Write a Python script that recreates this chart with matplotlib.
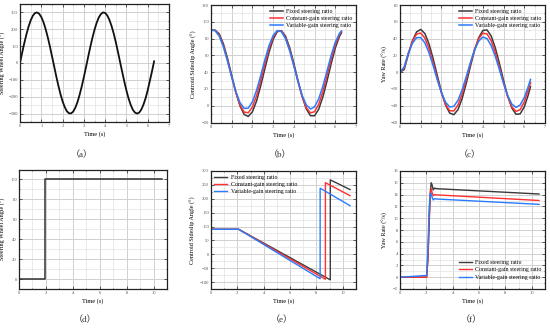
import matplotlib
matplotlib.use("Agg")
import matplotlib.pyplot as plt
from matplotlib.ticker import MultipleLocator

# ---------------- data ----------------
series_names = ["Fixed steering ratio", "Constant-gain steering ratio", "Variable-gain steering ratio"]
captions = ["（a）", "（b）", "（c）", "（d）", "（e）", "（f）"]
ylabels = ["Steering Wheel Angle (°)", "Centroid Sideslip Angle (°)", "Yaw Rate (°/s)",
           "Steering Wheel Angle (°)", "Centroid Sideslip Angle (°)", "Yaw Rate (°/s)"]

# (a) sine steering input
t_a = [i / 10 for i in range(64)]
swa_a = [0, 60, 117, 169, 215, 252, 280, 296, 300, 292, 273, 243, 203, 155, 101, 42,
         -17, -77, -133, -184, -227, -261, -286, -298, -299, -288, -265, -232, -189, -139,
         -84, -25, 35, 94, 148, 197, 238, 270, 290, 300, 297, 282, 256, 220, 176, 124, 67,
         7, -52, -110, -163, -210, -248, -277, -294, -300, -294, -276, -247, -209, -161,
         -106, -50, 10]

# time base for (b) and (c)
t_bc = [0, 0.2, 0.4, 0.6, 0.8, 1.0, 1.2, 1.4, 1.6, 1.8, 2.0, 2.2, 2.4, 2.6, 2.8, 3.0,
        3.2, 3.4, 3.6, 3.8, 4.0, 4.2, 4.4, 4.6, 4.8, 5.0, 5.2, 5.4, 5.6, 5.8, 6.0, 6.2, 6.3]

# (b) centroid sideslip angle
beta_fixed = [90, 90, 85.5, 73.6, 56.2, 36.0, 16.1, -0.2, -10.4, -12.8, -7.2, 5.6, 23.7,
              44.0, 63.5, 79.1, 88.2, 89.5, 82.7, 69.0, 50.4, 30.0, 11.0, -3.8, -11.9,
              -12.0, -4.1, 10.4, 29.5, 49.9, 68.7, 82.5, 87.0]
beta_const = [90, 89.8, 84.0, 71.3, 53.7, 34.1, 15.5, 0.9, -7.6, -8.4, -1.5, 12.0, 30.1,
              49.8, 67.9, 81.8, 89.2, 88.9, 80.8, 66.5, 48.1, 28.4, 10.7, -2.3, -8.6,
              -7.1, 1.8, 16.9, 35.8, 55.4, 72.6, 84.7, 88.3]
beta_var = [90, 89.4, 82.8, 70.0, 52.8, 34.2, 16.9, 3.7, -3.2, -2.9, 4.7, 18.4, 35.9,
            54.6, 71.4, 83.7, 89.6, 88.2, 79.7, 65.3, 47.4, 28.8, 12.4, 1.0, -3.9,
            -1.4, 8.2, 23.1, 41.4, 59.8, 75.6, 86.2, 89.0]

# (c) yaw rate
yaw_fixed = [0, 3, 20.8, 37.3, 47.9, 50.9, 46.0, 33.7, 16.1, -4.0, -23.5, -39.3, -48.8,
             -50.7, -44.6, -31.4, -13.3, 7.0, 26.1, 41.1, 49.6, 50.3, 43.1, 29.0, 10.4,
             -9.9, -28.6, -42.8, -50.2, -49.7, -41.4, -26.5, -17.3]
yaw_const = [0, 5, 22.5, 36.8, 45.3, 46.6, 40.6, 28.1, 11.2, -7.4, -24.9, -38.4, -46.0,
             -46.2, -39.1, -25.9, -8.6, 10.1, 27.2, 40.0, 46.4, 45.6, 37.5, 23.5, 6.0,
             -12.8, -29.4, -41.3, -46.8, -44.7, -35.5, -20.7, -12.4]
yaw_var = [0, 6, 22.3, 34.4, 41.1, 41.2, 34.9, 23.1, 7.6, -9.1, -24.4, -35.8, -41.5,
           -40.7, -33.5, -21.0, -5.2, 11.5, 26.3, 37.0, 41.8, 40.0, 31.7, 18.8, 2.9,
           -13.7, -28.1, -38.1, -42.0, -39.2, -30.2, -16.5, -8.6]

# (d) step steering input
t_d = [0, 1.95, 1.95, 10.6]
swa_d = [0, 0, 100, 100]

# (e) centroid sideslip angle, step input
t_e_fixed = [0, 2.1, 9.05, 9.05, 10.55]
beta_e_fixed = [90, 90, -92, 268, 233]
t_e_const = [0, 2.1, 8.68, 8.68, 10.55]
beta_e_const = [90, 90, -90, 258, 211]
t_e_var = [0, 2.1, 8.28, 8.28, 10.55]
beta_e_var = [90, 90, -88, 238, 175]

# (f) yaw rate, step input
t_f = [0, 2.02, 2.12, 2.22, 2.3, 2.37, 2.44, 2.52, 2.62, 2.8, 10.55]
yaw_f_fixed = [0, 0, 3.0, 9.5, 14.5, 16.0, 15.6, 14.8, 15.1, 15.0, 14.1]
yaw_f_const = [0, 0, 3.5, 10.5, 14.2, 15.0, 14.3, 13.8, 14.0, 13.95, 13.0]
yaw_f_var = [0, 0.3, 5.0, 12.0, 14.0, 14.2, 13.5, 13.1, 13.3, 13.25, 12.35]

# ---------------- style ----------------
C_BLACK = "#3a3a3a"
C_RED = "#ff3030"
C_BLUE = "#2a7bff"
SERIF = ["Liberation Serif", "DejaVu Serif"]
plt.rcParams["font.family"] = SERIF

fig = plt.figure(figsize=(5.5, 3.28), dpi=100)
W, H = 550.0, 328.0


def make_ax(l, r, top, bot):
    return fig.add_axes([l / W, 1 - bot / H, (r - l) / W, (bot - top) / H])


def style(ax, xmax, xmaj, xmin_step, ylim, ymaj, ymin_step, ylabel, ylab_x):
    ax.set_xlim(0, xmax)
    ax.set_ylim(*ylim)
    ax.xaxis.set_major_locator(MultipleLocator(xmaj))
    ax.xaxis.set_minor_locator(MultipleLocator(xmin_step))
    ax.yaxis.set_major_locator(MultipleLocator(ymaj))
    ax.yaxis.set_minor_locator(MultipleLocator(ymin_step))
    ax.grid(True, which="major", color="#d0d0d0", lw=0.7)
    ax.grid(True, which="minor", color="#e2e2e2", lw=0.5)
    ax.set_axisbelow(True)
    ax.tick_params(which="both", direction="in", top=True, right=True,
                   labelsize=3.3, pad=1.5, colors="#222222", labelcolor="#555555")
    ax.tick_params(which="major", length=2, width=0.5)
    ax.tick_params(which="minor", length=1, width=0.4)
    for s in ax.spines.values():
        s.set_linewidth(0.9)
        s.set_color("#222222")
    ax.set_xlabel("Time (s)", fontsize=4.6, labelpad=2.5)
    ax.set_ylabel(ylabel, fontsize=4.4)
    ax.yaxis.set_label_coords(ylab_x, 0.5)


def legend(ax, loc, bbox):
    leg = ax.legend(series_names, loc=loc, bbox_to_anchor=bbox, frameon=False,
                    fontsize=4.2, handlelength=2.2, handletextpad=0.6,
                    labelspacing=0.35, borderaxespad=0.2)
    return leg


# row 1
ax_a = make_ax(20, 169, 4, 122)
ax_b = make_ax(211, 356, 5, 122.5)
ax_c = make_ax(400, 545, 5, 122.5)
# row 2
ax_d = make_ax(19, 167, 169.5, 289)
ax_e = make_ax(211, 356, 171, 289)
ax_f = make_ax(400, 545, 171, 289)

ax_a.plot(t_a, swa_a, color="#111111", lw=1.3)
style(ax_a, 7, 1, 0.5, (-350, 350), 100, 50, ylabels[0], -0.097)

for y, c in zip([beta_fixed, beta_const, beta_var], [C_BLACK, C_RED, C_BLUE]):
    ax_b.plot(t_bc, y, color=c, lw=1.1)
style(ax_b, 7, 1, 0.5, (-20, 120), 20, 10, ylabels[1], -0.095)
legend(ax_b, "upper right", (1.0, 1.0))

for y, c in zip([yaw_fixed, yaw_const, yaw_var], [C_BLACK, C_RED, C_BLUE]):
    ax_c.plot(t_bc, y, color=c, lw=1.1)
style(ax_c, 7, 1, 0.5, (-60, 80), 20, 10, ylabels[2], -0.085)
legend(ax_c, "upper right", (1.0, 1.0))

ax_d.plot(t_d, swa_d, color="#303030", lw=1.1)
style(ax_d, 11, 2, 1, (-10, 110), 20, 10, ylabels[3], -0.085)

for tx, y, c in zip([t_e_fixed, t_e_const, t_e_var],
                    [beta_e_fixed, beta_e_const, beta_e_var], [C_BLACK, C_RED, C_BLUE]):
    ax_e.plot(tx, y, color=c, lw=1.0)
style(ax_e, 11, 2, 1, (-125, 300), 50, 25, ylabels[4], -0.105)
legend(ax_e, "upper left", (0.0, 1.0))

for y, c in zip([yaw_f_fixed, yaw_f_const, yaw_f_var], [C_BLACK, C_RED, C_BLUE]):
    ax_f.plot(t_f, y, color=c, lw=1.0)
style(ax_f, 11, 2, 1, (-2, 18), 2, 1, ylabels[5], -0.08)
legend(ax_f, "lower right", (1.0, 0.05))

# captions
cap_pos = [(82, 155), (280, 155), (470, 155), (85, 320), (282, 320), (471, 320)]
for (x, y), txt in zip(cap_pos, captions):
    fig.text(x / W, 1 - y / H, txt, ha="center", va="center", fontsize=6.5,
             family=["Liberation Serif", "Noto Sans CJK SC"], color="#333333")

fig.savefig("out.png", dpi=100, facecolor="white")
